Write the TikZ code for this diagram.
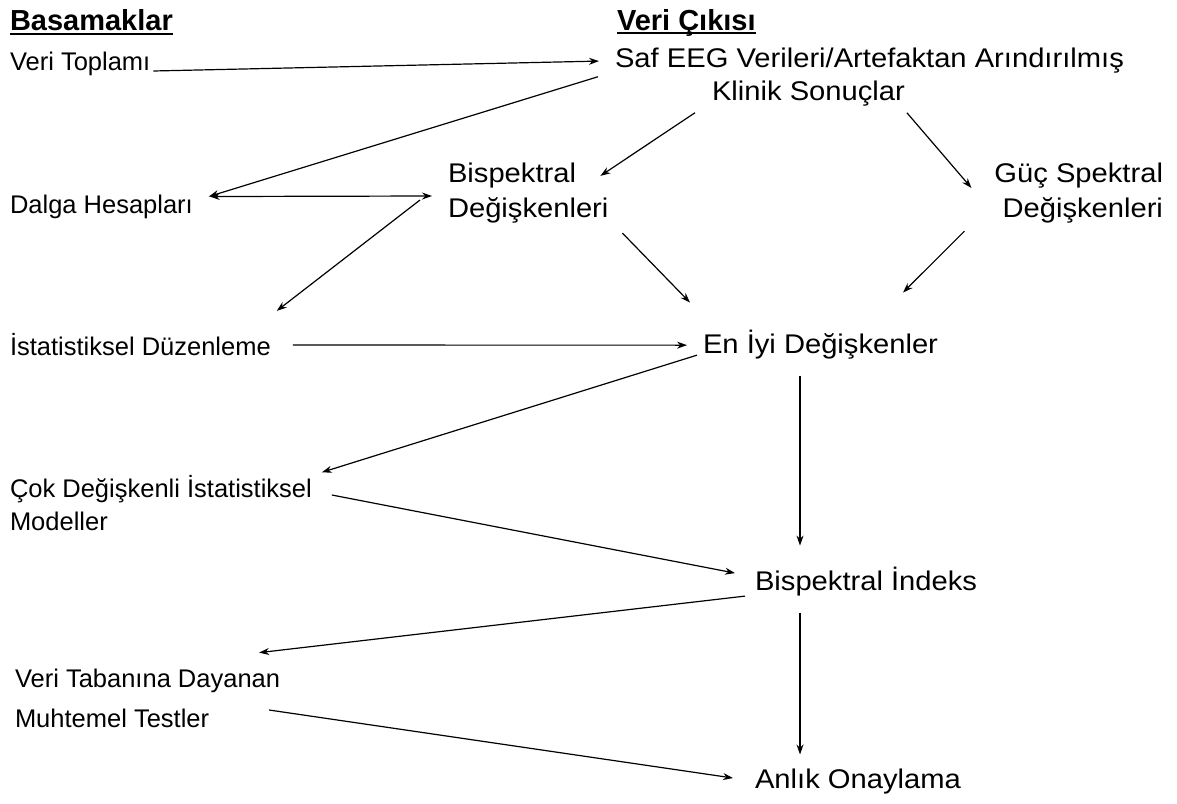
\documentclass[tikz,border=0pt]{standalone}
\usepackage{fontspec}
\setmainfont{Liberation Sans}
\newfontfamily\widefont{Liberation Sans}[FakeStretch=1.08]
\usetikzlibrary{arrows.meta}

\begin{document}
\begin{tikzpicture}[x=1pt, y=-1pt,
  >={Stealth[length=10pt,width=7pt]},
  every node/.style = {inner sep=0pt, outer sep=0pt,
    font=\fontsize{25.5}{33}\selectfont},
  wide/.style = {font=\widefont\fontsize{27}{35}\selectfont},
  head/.style = {font=\bfseries\fontsize{29}{33}\selectfont},
  link/.style = {->, line width=1.2pt},
  both/.style = {<->, line width=1.2pt},
  uline/.style = {line width=2.2pt}]
  \useasboundingbox (0,0) rectangle (1177,803);

  \node[head, anchor=base west] (basam) at (10,30) {Basamaklar};
  \node[head, anchor=base west] (cikis) at (617,30) {Veri Çıkısı};
  \node[anchor=base west] (toplam) at (10,70) {Veri Toplamı};
  \node[wide, anchor=base west] (saf) at (615,67) {Saf EEG Verileri/Artefaktan Arındırılmış};
  \node[wide, anchor=base west] (klinik) at (712,100) {Klinik Sonuçlar};
  \node[anchor=base west] (dalga) at (10,213) {Dalga Hesapları};
  \node[wide, anchor=west, align=left] (bisp) at (448,193) {Bispektral\\Değişkenleri};
  \node[wide, anchor=east, align=right] (guc) at (1163,193) {Güç Spektral\\Değişkenleri};
  \node[anchor=base west] (istat) at (10,355) {İstatistiksel Düzenleme};
  \node[wide, anchor=base west] (eniyi) at (703,353) {En İyi Değişkenler};
  \node[anchor=west, align=left] (cok) at (10,503) {Çok Değişkenli İstatistiksel\\Modeller};
  \node[wide, anchor=base west] (bisi) at (755,590) {Bispektral İndeks};
  \node[anchor=west, align=left, font=\fontsize{25.5}{40}\selectfont] (taban) at (15,698)
    {Veri Tabanına Dayanan\\Muhtemel Testler};
  \node[wide, anchor=base west] (anlik) at (755,788) {Anlık Onaylama};

  \draw[uline] ([yshift=-4pt]basam.base west) -- ([yshift=-4pt]basam.base east);
  \draw[uline] ([yshift=-3pt]cikis.base west) -- ([yshift=-3pt]cikis.base east);

  \draw[link] ([shift={(3,1)}]toplam.base east) -- ([shift={(-16,1)}]saf.west);
  \draw[link] ([shift={(-17,4)}]saf.south west) -- ([shift={(16,2)}]dalga.north east);
  \draw[both] ([shift={(17,2)}]dalga.north east) -- ([shift={(-16,3)}]bisp.west);
  \draw[link] ([shift={(-17,7)}]klinik.south west) -- ([shift={(-8,13)}]bisp.north east);
  \draw[link] ([shift={(2,7)}]klinik.south east) -- ([shift={(-23,-5)}]guc.west);
  \draw[link] ([shift={(-28,7)}]bisp.west) -- ([shift={(6,-22)}]istat.north east);
  \draw[link] ([shift={(14,10)}]bisp.south east) -- ([shift={(-13,-27)}]eniyi.north west);
  \draw[link] ([shift={(-30,8)}]guc.south west) -- ([shift={(-35,-37)}]eniyi.north east);
  \draw[link] ([shift={(22,1)}]istat.east) -- ([shift={(-16,1)}]eniyi.west);
  \draw[link] ([shift={(-6,11)}]eniyi.west) -- ([shift={(10,-3)}]cok.north east);
  \draw[link] ([shift={(97,17)}]eniyi.south west) -- ([shift={(45,-21)}]bisi.north west);
  \draw[link] ([shift={(20,-8)}]cok.east) -- ([shift={(-20,-8)}]bisi.west);
  \draw[link] ([shift={(-10,15)}]bisi.west) -- ([shift={(-21,-16)}]taban.north east);
  \draw[link] ([shift={(45,17)}]bisi.south west) -- ([shift={(45,-14)}]anlik.north west);
  \draw[link] ([shift={(-11,12)}]taban.east) -- ([shift={(-22,-3)}]anlik.west);
\end{tikzpicture}
\end{document}
